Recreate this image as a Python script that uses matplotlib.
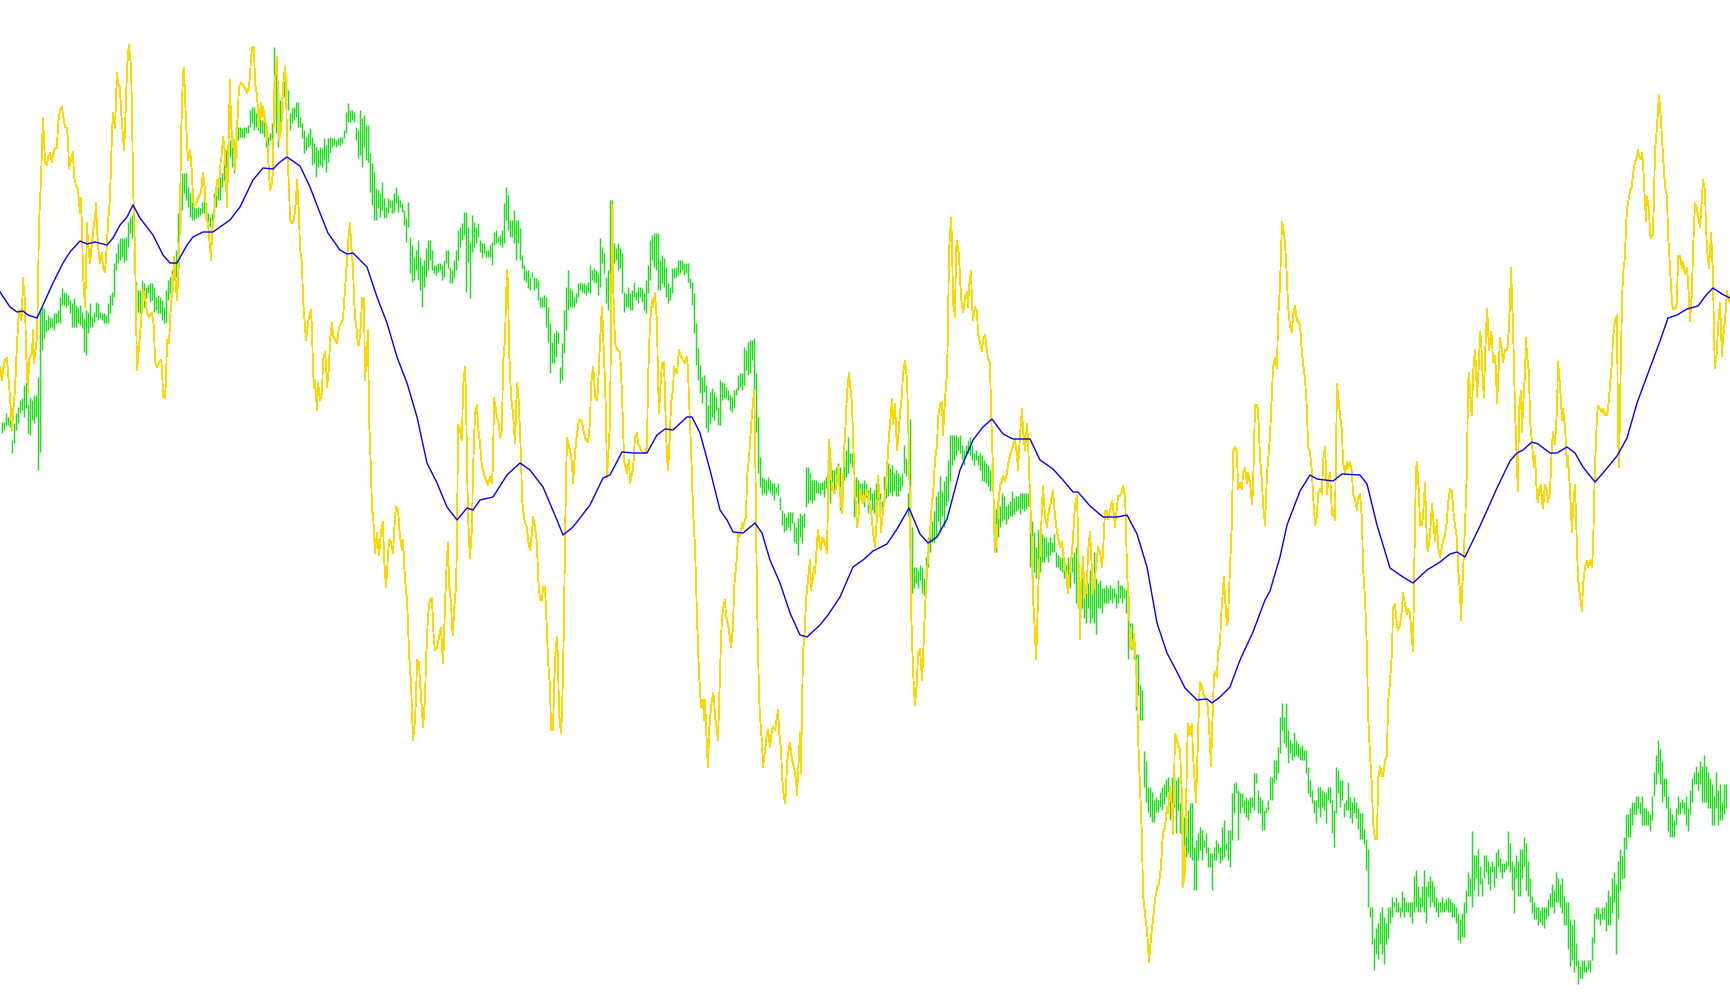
import numpy as np
import matplotlib
matplotlib.use("Agg")
import matplotlib.pyplot as plt

# canvas in chart units (price axis runs top -> bottom like the terminal window)
W, H = 1730, 1005

# price bars: top and bottom of each bar, left to right
bar_top = [
    # 0-135
    422, 422, 413, 417, 415, 440, 423, 413, 407, 400, 398, 385, 382, 405, 397, 400, 395, 395, 377, 310,
    307, 308, 320, 315, 317, 318, 313, 313, 310, 297, 288, 292, 293, 295, 300, 303, 298, 305, 307, 305,
    312, 318, 310, 312, 303, 317, 312, 302, 303, 312, 313, 313, 315, 303, 295, 292, 263, 253, 243, 238,
    238, 238, 237, 222, 217, 215, 250, 282,
    # 137-289
    290, 290, 280, 283, 287, 285, 283, 283, 287, 297, 295, 297, 300, 307, 290, 280, 277, 270, 263, 250,
    213, 193, 173, 173, 173, 187, 193, 200, 207, 208, 207, 208, 202, 200, 203, 213, 217, 213, 193, 187,
    180, 177, 173, 160, 150, 143, 140, 133, 140, 127, 127, 127, 128, 127, 127, 125, 110, 107, 107, 113,
    117, 110, 120, 110, 123, 137, 133, 123, 47, 57, 93, 100, 93, 77, 77, 90,
    # 291-589
    113, 108, 107, 102, 102, 117, 123, 130, 137, 133, 128, 137, 143, 147, 150, 147, 148, 138, 145, 138,
    137, 138, 138, 140, 138, 137, 137, 130, 112, 103, 110, 110, 112, 127, 130, 110, 118, 115, 125, 125,
    153, 163, 172, 188, 190, 193, 182, 198, 207, 198, 200, 200, 193, 187, 195, 200, 203, 210, 218, 202,
    237, 245, 257, 250, 240, 257, 265, 260, 248, 240, 240, 250, 265, 265, 263, 263, 265, 260, 250, 250,
    267, 270, 260, 250, 230, 227, 223, 212, 212, 227, 242, 215, 222, 227, 223, 240, 243, 243, 250, 250,
    245, 242, 232, 230, 237, 235, 230, 203, 187, 195, 220, 220, 210, 220, 220, 228, 255, 265, 270, 270,
    277, 272, 277, 278, 280, 297, 297, 295, 297, 307, 323, 342, 333, 330, 332, 367, 343, 310, 287, 270,
    288, 290, 297, 293, 283, 282, 283, 283, 285, 282,
    # 591-879
    265, 270, 268, 270, 273, 238, 247, 253, 277, 270, 200, 200, 243, 248, 243, 248, 253, 292, 293, 287,
    293, 290, 282, 292, 287, 287, 288, 293, 280, 265, 240, 235, 233, 233, 233, 260, 255, 258, 267, 283,
    287, 268, 268, 267, 260, 260, 260, 263, 263, 263, 278, 282, 293, 323, 348, 365, 377, 375, 385, 405,
    392, 388, 392, 397, 407, 380, 382, 383, 387, 390, 395, 397, 390, 388, 375, 373, 373, 347, 350, 342,
    340, 340, 338, 373, 417, 457, 477, 478, 480, 477, 480, 483, 483, 487, 483, 497,
    510, 513, 517, 512, 512, 512, 522, 527, 518, 513, 515, 513, 467,
    467, 473, 480, 480, 480, 482, 483, 482, 480, 477, 460, 457, 470, 470, 467, 463, 467, 480, 460, 450,
    437, 453, 453, 480, 477, 480, 483, 483, 480, 483, 490, 487, 493, 490, 483, 487,
    # 881-1169
    493, 501, 476, 483, 463, 468, 465, 473, 470, 473, 476, 473, 445, 458, 493, 419, 527, 567, 567, 570,
    565, 567, 578, 557, 537, 532, 521, 511, 496, 491, 476, 491, 481, 476, 460, 435, 435, 435, 435, 437,
    435, 445, 450, 445, 440, 437, 445, 453, 450, 455, 453, 455, 460, 463, 465, 470, 463, 506, 509, 496,
    506, 493, 496, 506, 504, 501, 491, 498, 496, 496, 493, 493, 493, 493, 493, 519, 521, 532, 547, 529,
    532, 534, 537, 537, 542, 537, 542, 534, 552, 555, 557, 557, 562, 565, 557, 567, 557, 552, 547, 557,
    588, 578, 588, 578, 583, 570, 578, 552, 578, 583, 580, 588, 588, 585, 588, 585, 588, 588, 593, 580,
    585, 585, 588, 590, 603, 623, 623, 639, 654, 654, 685, 690, 751, 761, 787, 787, 792, 800, 797, 800,
    792, 787, 784, 779, 777,
    # 1171-1349
    790, 777, 773, 780, 777, 803, 807, 817, 817, 810, 803, 803, 847, 840, 833, 827, 830, 840, 833, 847,
    853, 853, 847, 840, 843, 847, 827, 820, 843, 830, 830, 793, 783, 782, 790, 793, 793, 800, 797, 800,
    797, 797, 773, 773, 790, 797, 800, 810, 807, 800, 777, 777, 760, 760, 747, 717, 703, 717, 703, 730,
    740, 743, 732, 740, 743, 747, 745, 750, 750, 767, 780, 790, 800, 800, 787, 787, 790, 792, 793, 787,
    787, 800, 810, 767, 770, 780, 780, 803, 800, 782,
    # 1351-1457
    797, 802, 797, 802, 808, 813, 813, 829, 839, 849, 907, 907, 938, 928, 923, 912, 907, 917, 923, 907,
    907, 897, 902, 897, 902, 907, 891, 897, 902, 902, 902, 902, 876, 870, 886, 897, 886, 870, 886, 881,
    876, 881, 886, 897, 902, 902, 897, 902, 899, 897, 899, 902, 904, 907,
    # 1461-1729
    913, 919, 913, 902, 890, 872, 878, 831, 855, 855, 849, 866, 878, 855, 855, 861, 866, 861, 866, 852,
    849, 858, 863, 863, 861, 831, 843, 861, 866, 855, 861, 849, 849, 837, 843, 861, 878, 896, 902, 907,
    907, 910, 907, 907, 907, 899, 893, 884, 890, 872, 878, 884, 878, 896, 902, 902, 919, 925, 919, 943,
    960, 966, 960, 960, 966, 960, 960, 937, 913, 907, 907, 913, 907, 907, 902, 890, 896, 878, 872, 884,
    861, 849, 855, 837, 814, 814, 808, 802, 802, 796, 796, 802, 796, 808, 808, 811, 814, 796, 772, 755,
    740, 749, 761, 778, 778, 796, 808, 814, 820, 808, 796, 802, 799, 802, 796, 808, 790, 778, 772, 766,
    772, 761, 766, 755, 766, 772, 778, 784, 796, 772, 790, 784, 802, 784, 784,
]

bar_bot = [
    # 0-135
    433, 430, 425, 425, 427, 453, 443, 430, 423, 413, 410, 417, 408, 433, 435, 420, 423, 417, 470, 452,
    350, 338, 332, 330, 328, 327, 330, 323, 322, 323, 305, 305, 307, 305, 313, 327, 327, 327, 323, 325,
    328, 352, 355, 333, 327, 327, 322, 317, 320, 318, 320, 323, 323, 323, 313, 305, 297, 270, 263, 260,
    257, 262, 260, 247, 233, 238, 272, 313,
    # 137-289
    312, 313, 298, 307, 298, 293, 302, 300, 312, 310, 313, 313, 320, 323, 322, 300, 293, 287, 280, 277,
    267, 230, 210, 193, 200, 207, 217, 220, 220, 218, 217, 215, 213, 213, 220, 227, 227, 223, 213, 207,
    200, 200, 187, 180, 193, 170, 157, 167, 173, 157, 140, 137, 137, 138, 133, 133, 127, 123, 130, 127,
    130, 133, 133, 137, 147, 153, 140, 140, 120, 133, 147, 127, 113, 97, 93, 110,
    # 291-589
    130, 123, 120, 117, 127, 127, 138, 153, 150, 147, 145, 165, 163, 177, 167, 165, 167, 160, 172, 162,
    153, 147, 145, 147, 145, 145, 143, 138, 133, 122, 122, 120, 122, 140, 158, 155, 167, 147, 160, 162,
    192, 205, 220, 220, 208, 217, 210, 218, 217, 213, 208, 213, 212, 203, 212, 207, 212, 225, 242, 227,
    273, 282, 280, 270, 280, 290, 307, 287, 277, 270, 260, 270, 273, 275, 272, 270, 280, 277, 263, 268,
    283, 283, 278, 270, 260, 247, 240, 235, 292, 262, 298, 252, 247, 243, 237, 252, 258, 253, 257, 257,
    257, 265, 245, 243, 242, 245, 247, 243, 220, 230, 237, 237, 243, 260, 243, 260, 268, 280, 282, 288,
    290, 277, 290, 288, 300, 307, 307, 307, 327, 342, 373, 363, 363, 357, 343, 383, 380, 353, 330, 310,
    307, 307, 307, 303, 297, 290, 292, 293, 295, 292,
    # 591-879
    293, 280, 282, 283, 295, 287, 263, 273, 303, 310, 290, 293, 263, 260, 270, 268, 293, 312, 307, 307,
    310, 310, 297, 300, 303, 297, 302, 310, 313, 293, 280, 260, 267, 270, 290, 290, 283, 287, 297, 303,
    300, 293, 278, 277, 275, 273, 270, 275, 273, 282, 288, 305, 333, 365, 380, 393, 403, 392, 428, 432,
    423, 417, 420, 410, 425, 425, 400, 398, 398, 400, 410, 412, 408, 395, 390, 387, 390, 385, 370, 375,
    373, 360, 390, 432, 473, 487, 495, 493, 495, 490, 493, 495, 500, 493, 495, 510,
    525, 532, 530, 527, 530, 523, 542, 543, 555, 537, 543, 527, 507,
    503, 500, 503, 500, 493, 493, 495, 490, 497, 488, 483, 503, 483, 493, 487, 480, 510, 510, 480, 477,
    473, 463, 467, 517, 497, 510, 497, 503, 507, 497, 513, 500, 510, 513, 517, 500,
    # 881-1169
    511, 514, 501, 498, 496, 493, 496, 491, 496, 496, 491, 486, 473, 476, 516, 578, 593, 588, 583, 588,
    580, 593, 595, 578, 567, 552, 542, 542, 537, 521, 532, 516, 527, 506, 501, 481, 465, 460, 455, 450,
    453, 460, 465, 455, 453, 455, 460, 465, 460, 465, 470, 481, 481, 483, 486, 491, 481, 542, 552, 537,
    527, 521, 519, 524, 519, 516, 516, 514, 511, 509, 514, 509, 511, 509, 506, 567, 578, 572, 578, 567,
    572, 562, 562, 557, 562, 555, 552, 552, 567, 567, 570, 572, 578, 585, 580, 588, 572, 583, 603, 608,
    618, 608, 618, 623, 608, 623, 618, 623, 634, 608, 608, 613, 603, 603, 603, 600, 603, 598, 608, 603,
    598, 603, 598, 613, 659, 649, 649, 659, 710, 695, 720, 720, 787, 802, 812, 817, 822, 822, 812, 812,
    807, 810, 804, 797, 792,
    # 1171-1349
    820, 810, 807, 833, 810, 833, 887, 877, 857, 853, 857, 860, 890, 890, 860, 850, 860, 847, 853, 867,
    867, 890, 860, 860, 853, 863, 860, 857, 850, 860, 867, 840, 813, 793, 840, 813, 807, 813, 817, 820,
    813, 807, 810, 783, 813, 813, 830, 830, 813, 810, 800, 800, 783, 780, 773, 753, 730, 743, 747, 763,
    753, 760, 757, 755, 757, 760, 760, 760, 773, 793, 797, 803, 813, 823, 807, 817, 807, 810, 823, 800,
    803, 833, 847, 813, 793, 807, 800, 817, 810, 810,
    # 1351-1457
    818, 823, 813, 818, 829, 839, 839, 844, 870, 907, 917, 944, 970, 954, 959, 944, 954, 964, 944, 938,
    923, 917, 907, 912, 912, 917, 912, 917, 912, 912, 917, 923, 912, 907, 912, 912, 907, 912, 923, 897,
    907, 902, 907, 912, 917, 912, 912, 912, 910, 912, 912, 917, 917, 923,
    # 1461-1729
    940, 943, 937, 937, 913, 896, 896, 907, 890, 878, 896, 884, 896, 878, 872, 884, 890, 872, 887, 878,
    866, 872, 878, 872, 869, 866, 872, 890, 913, 878, 896, 896, 878, 866, 890, 896, 902, 913, 919, 919,
    925, 922, 925, 928, 919, 916, 907, 907, 913, 902, 902, 907, 913, 925, 925, 949, 966, 960, 972, 966,
    984, 978, 978, 972, 972, 969, 972, 960, 943, 919, 919, 925, 919, 919, 931, 925, 925, 913, 902, 954,
    919, 890, 878, 878, 849, 837, 837, 825, 814, 814, 808, 814, 825, 825, 825, 825, 831, 820, 796, 784,
    773, 784, 802, 796, 808, 831, 837, 837, 837, 825, 814, 814, 808, 814, 825, 831, 814, 802, 784, 784,
    790, 784, 802, 802, 802, 808, 808, 825, 825, 808, 825, 820, 820, 814, 808,
]

# oscillator (yellow), vertices
osc_x = [
    0, 2, 3, 5, 7, 8, 10, 12, 13, 15, 17, 19, 21, 22, 23, 25, 26, 28, 29, 32,
    33, 34, 37, 38, 39, 41, 42, 43, 45, 47, 48, 50, 52, 53, 55, 57, 58, 60, 62, 63,
    65, 67, 68, 69, 71, 73, 74, 76, 78, 80, 81, 82, 83, 85, 86, 87, 88, 90, 92, 93,
    95, 96, 97, 99, 100, 102, 103, 105, 107, 108, 110, 112, 113, 115, 117, 118, 120, 121, 123, 124,
    125, 127, 128, 129, 131, 132, 133, 135, 136, 137, 139, 141, 143, 145, 147, 149, 152, 154, 155, 157,
    159, 161, 162, 163, 165, 166, 167, 169, 170, 171, 173, 174, 176, 177, 179, 180, 181, 183, 184, 185,
    187, 188, 190, 192, 193, 194, 196, 198, 201, 202, 203, 205, 206, 208, 211, 212, 213, 215, 217, 219,
    220, 222, 223, 225, 227, 228, 230, 231, 233, 234, 235, 237, 239, 241, 243, 245, 247, 249, 251, 252,
    254, 255, 257, 259, 261, 262, 263, 265, 267, 268, 270, 272, 273, 274, 275, 277, 278, 279, 281, 282,
    283, 285, 286, 287, 289, 290, 292, 294, 296, 297, 299, 300,
    302, 303, 305, 306, 307, 309, 311, 312, 313, 314, 315, 317, 318, 320, 322, 323, 325, 326, 327, 329,
    330, 332, 333, 335, 337, 339, 341, 343, 344, 345, 347, 349, 350, 351, 353, 354, 355, 357, 358, 359,
    361, 362, 364, 365, 367, 368, 369, 371, 372,
    373, 375, 377, 379, 381, 383, 384, 386, 387, 389, 391, 393, 395, 396, 398, 400, 402, 403, 405, 407,
    408, 409, 411, 412, 413, 415, 416, 417, 419, 420, 422, 423, 425, 426, 427, 428, 430, 432, 433, 434,
    435, 437, 439, 440, 441, 443, 444, 445, 447, 448, 449, 451, 452, 453, 454, 456, 457, 458,
    460, 462, 463, 465, 466, 467, 468, 469, 470, 472, 473, 475, 477, 478, 480, 482, 483, 485, 487, 488,
    490, 492, 493, 494, 496, 497, 499, 500, 502, 503, 505, 506, 507, 508, 509, 511, 512, 513, 515, 517,
    518, 519, 521, 522, 523, 525, 527, 528, 530, 532, 533, 535, 537, 538, 540, 542, 543, 545, 547, 548,
    550, 551, 553, 554, 555, 557, 558, 559, 561, 562, 563, 564, 565, 566, 567, 568, 570, 572, 573, 575,
    577, 579, 581, 582, 584, 586, 588, 590, 591, 593,
    594, 595, 597, 598, 599, 601, 602, 603, 605, 606, 607, 610, 611, 612, 613, 615, 616, 618, 620, 621,
    623, 624, 627, 629, 630, 632, 633, 635, 637, 638, 640, 642, 643, 645, 647, 648, 650, 652, 653, 655,
    657, 658, 659, 661, 662, 664, 666, 667, 668, 670, 671, 673, 674, 675, 677, 679, 680, 682, 683, 685,
    687, 688, 689, 691, 692, 693, 695, 696, 697, 698, 699, 700, 701, 703, 704, 705, 707, 708, 709, 711,
    713, 714, 715, 717, 718, 719, 721, 722, 723, 725, 726, 727, 729, 730, 731, 733, 734, 735, 737, 738,
    739, 741, 742, 743, 745, 746, 747, 749, 750, 751, 753, 754, 755, 756, 757, 758, 759, 760, 762, 763,
    765, 767, 768, 770, 772, 773, 775, 777, 778, 779, 781, 782, 783, 785, 786, 787, 789, 790, 792, 794,
    796, 797, 799, 800, 801, 802, 803, 805, 806, 807, 809, 810, 811, 813, 814, 815, 817, 818, 819, 821,
    822, 823, 825, 827, 828, 829, 830, 832, 833, 835, 837, 838, 840, 842, 843, 844, 845, 847, 849, 850,
    852, 853, 854, 855, 857, 859, 860, 862, 863, 865, 867, 869, 871, 873, 875, 877, 878, 880, 881, 883,
    885, 887, 888, 890, 892, 893, 895, 897, 898, 900, 902, 903, 905, 907, 908, 910, 911, 913, 914, 915,
    917, 918, 920, 922, 923, 925, 927, 928, 930, 932, 933, 935, 937, 938, 940, 942, 943, 945, 947, 948,
    949, 951, 952, 953, 955, 956, 957, 959, 960, 961, 963, 964, 965, 967, 968, 969, 971, 972, 973, 975,
    977, 978, 980, 982, 983, 985, 987, 988, 990, 991, 993, 994, 995, 997, 998, 1000, 1002, 1003, 1005, 1007,
    1008, 1010, 1012, 1013, 1015, 1017, 1018, 1020, 1022, 1023, 1025, 1027, 1028, 1030, 1032, 1033, 1035, 1036, 1037, 1038,
    1039, 1041, 1042, 1043, 1045, 1047, 1048, 1050, 1052, 1053, 1055, 1057, 1058, 1060, 1062, 1063, 1065, 1067, 1068, 1070,
    1072, 1073, 1075, 1077, 1078, 1080, 1081, 1083, 1084, 1085, 1087, 1088, 1090, 1092, 1093, 1095, 1097, 1098, 1100, 1102,
    1103, 1105, 1107, 1108, 1110, 1112, 1113, 1115, 1117, 1118, 1120, 1122, 1123, 1125, 1126, 1127, 1129, 1130, 1131, 1133,
    1134, 1135, 1137, 1138, 1140, 1142, 1143, 1145, 1147, 1149, 1151, 1153, 1155, 1157, 1159, 1161, 1162, 1163, 1165, 1167,
    1168, 1170, 1172, 1173, 1175, 1177, 1178, 1180, 1182, 1183, 1185, 1187, 1188, 1190, 1192, 1193, 1195, 1196, 1197, 1199,
    1200, 1202, 1203, 1205, 1207, 1208, 1210, 1211, 1213, 1214, 1215, 1217, 1218, 1220, 1221, 1223, 1224, 1225, 1227, 1228,
    1230, 1232, 1233, 1235, 1237, 1238, 1240, 1242, 1243, 1245, 1247, 1248, 1250, 1252, 1253, 1255, 1257, 1258, 1260, 1262,
    1263, 1265, 1267, 1268, 1270, 1272, 1273, 1275, 1277, 1278, 1280, 1282, 1283, 1285, 1287, 1288, 1290, 1292, 1293, 1295,
    1297, 1298, 1300, 1302, 1303, 1305, 1307, 1308, 1310, 1312, 1313, 1315, 1317, 1318, 1320, 1322, 1323, 1325, 1327, 1328,
    1330, 1332, 1333, 1335, 1337, 1338, 1340, 1342, 1343, 1345, 1347, 1348, 1350, 1352, 1353, 1355, 1357, 1358, 1360, 1362,
    1363, 1365, 1367, 1368, 1370, 1372, 1373, 1375, 1377, 1378, 1380, 1382, 1383, 1385, 1387, 1388, 1390, 1392, 1393, 1395,
    1397, 1398, 1400, 1402, 1403, 1405, 1407, 1408, 1410, 1412, 1413, 1415, 1416, 1417, 1419, 1420, 1422, 1423, 1425, 1427,
    1428, 1430, 1432, 1433, 1435, 1437, 1438, 1440, 1442, 1443, 1445, 1447, 1448, 1450, 1452, 1453, 1455, 1457, 1458, 1460,
    1461, 1462, 1463, 1465, 1467, 1468, 1469, 1471, 1472, 1473, 1475, 1476, 1477, 1479, 1480, 1481, 1483, 1484, 1485, 1487,
    1488, 1489, 1491, 1492, 1493, 1495, 1496, 1497, 1499, 1500, 1502, 1503, 1505, 1507, 1508, 1510, 1511, 1513, 1514, 1515,
    1517, 1518, 1519, 1521, 1522, 1523, 1525, 1526, 1527, 1529, 1530, 1531, 1533, 1534, 1535, 1537, 1538, 1539, 1541, 1542,
    1543, 1545, 1547, 1548, 1550, 1552, 1553, 1555, 1557, 1558, 1560, 1562, 1563, 1565, 1567, 1568, 1570, 1572, 1573, 1575,
    1577, 1578, 1580, 1582, 1583, 1585, 1587, 1588, 1590, 1592, 1593, 1595, 1597, 1598, 1600, 1602, 1603, 1605, 1607, 1608,
    1610, 1612, 1613, 1615, 1617, 1618, 1619, 1621, 1622, 1623, 1625, 1626, 1627, 1629, 1630, 1632, 1633, 1635, 1637, 1638,
    1639, 1641, 1642, 1643, 1645, 1646, 1647, 1649, 1650, 1651, 1653, 1654, 1655, 1657, 1658, 1659, 1661, 1662, 1663, 1665,
    1667, 1668, 1670, 1672, 1673, 1675, 1677, 1678, 1680, 1682, 1683, 1685, 1687, 1688, 1690, 1692, 1693, 1695, 1697, 1698,
    1700, 1702, 1703, 1705, 1706, 1707, 1709, 1710, 1711, 1713, 1714, 1715, 1717, 1718, 1720, 1722, 1723, 1725, 1727, 1728, 1730,
]

osc_y = [
    367, 380, 370, 360, 358, 373, 397, 430, 413, 390, 343, 310, 320, 313, 278, 303, 350, 393, 360, 353,
    330, 363, 337, 287, 223, 180, 147, 118, 163, 165, 157, 153, 162, 155, 148, 148, 123, 110, 107, 115,
    127, 128, 140, 168, 160, 152, 177, 185, 190, 213, 198, 230, 273, 307, 275, 223, 243, 263, 243, 233,
    217, 203, 230, 257, 263, 253, 268, 272, 243, 223, 197, 133, 113, 128, 73, 83, 88, 110, 137, 150,
    130, 70, 53, 45, 67, 110, 183, 250, 313, 370, 347, 323, 290, 297, 313, 317, 313, 327, 363, 367,
    363, 360, 367, 397, 398, 380, 340, 343, 323, 303, 287, 257, 287, 300, 260, 217, 137, 73, 68, 97,
    143, 160, 150, 173, 200, 207, 203, 198, 193, 183, 173, 190, 217, 223, 260, 233, 225, 203, 180, 187,
    167, 153, 137, 153, 207, 163, 80, 123, 147, 140, 170, 130, 87, 83, 85, 88, 93, 87, 60, 47,
    47, 83, 95, 127, 103, 117, 107, 120, 130, 157, 190, 183, 170, 97, 80, 57, 97, 140, 130, 113,
    87, 67, 80, 147, 187, 220, 223, 220, 200, 180, 215, 250,
    263, 300, 327, 340, 330, 317, 310, 330, 370, 388, 380, 410, 383, 400, 393, 360, 352, 363, 387, 367,
    340, 323, 335, 340, 343, 327, 323, 320, 303, 290, 260, 230, 223, 243, 267, 297, 317, 333, 345, 345,
    323, 298, 298, 380, 350, 330, 417, 470, 512,
    513, 553, 533, 555, 532, 522, 557, 587, 572, 540, 542, 553, 517, 507, 510, 537, 550, 540, 580, 600,
    623, 653, 683, 710, 740, 720, 697, 660, 662, 683, 710, 727, 700, 660, 640, 613, 600, 598, 623, 643,
    650, 648, 637, 630, 628, 663, 640, 603, 557, 543, 583, 603, 627, 635, 610, 587, 543, 425,
    430, 440, 387, 367, 397, 463, 513, 540, 558, 527, 470, 413, 405, 427, 443, 467, 470, 477, 482, 485,
    477, 483, 463, 398, 410, 417, 425, 438, 430, 363, 340, 300, 270, 283, 347, 397, 405, 413, 443, 383,
    390, 407, 457, 497, 510, 523, 527, 540, 550, 533, 517, 527, 543, 577, 600, 600, 587, 587, 633, 660,
    687, 730, 730, 693, 657, 637, 660, 713, 733, 713, 673, 617, 543, 480, 438, 443, 450, 463, 483, 453,
    433, 420, 420, 423, 433, 440, 442, 423, 385, 367,
    377, 397, 400, 390, 363, 323, 307, 330, 383, 417, 477, 423, 323, 205, 280, 343, 347, 350, 352, 370,
    423, 460, 473, 460, 483, 473, 470, 437, 433, 443, 448, 452, 453, 453, 447, 380, 323, 300, 307, 293,
    323, 380, 413, 377, 363, 362, 430, 457, 470, 433, 403, 390, 367, 370, 373, 350, 355, 358, 360, 363,
    357, 370, 400, 447, 477, 510, 547, 583, 617, 647, 673, 690, 707, 700, 720, 700, 750, 767, 733, 707,
    693, 697, 717, 730, 740, 707, 640, 617, 610, 600, 617, 620, 630, 640, 647, 627, 590, 577, 557, 533,
    537, 533, 523, 528, 520, 517, 478, 457, 443, 427, 403, 390, 430, 520, 597, 650, 693, 717, 743, 767,
    750, 733, 730, 747, 730, 727, 730, 717, 710, 730, 750, 773, 790, 803, 790, 763, 747, 743, 760, 767,
    780, 795, 753, 733, 773, 707, 653, 627, 600, 590, 570, 560, 590, 577, 567, 573, 543, 530, 540, 550,
    538, 538, 543, 553, 500, 440, 453, 490, 490, 493, 480, 467, 493, 513, 490, 450, 437, 393, 373, 385,
    403, 437, 463, 490, 527, 513, 490, 497, 503, 497, 490, 503, 510, 532, 547, 516, 476, 506, 532, 511,
    496, 470, 450, 424, 399, 424, 404, 450, 440, 414, 394, 373, 361, 379, 414, 506, 608, 669, 690, 705,
    680, 654, 649, 680, 659, 608, 572, 557, 532, 501, 496, 460, 445, 419, 404, 402, 435, 399, 373, 328,
    251, 218, 241, 302, 317, 251, 241, 256, 277, 297, 312, 307, 297, 292, 307, 287, 271, 302, 320, 307,
    312, 333, 343, 351, 340, 335, 351, 358, 363, 409, 470, 521, 552, 537, 506, 486, 481, 476, 481, 473,
    465, 455, 450, 445, 440, 455, 470, 435, 409, 430, 450, 424, 440, 496, 547, 598, 634, 659, 634, 598,
    567, 532, 506, 486, 516, 527, 516, 506, 496, 491, 516, 532, 537, 547, 542, 552, 567, 583, 593, 567,
    552, 537, 506, 496, 532, 639, 588, 557, 583, 598, 583, 552, 532, 572, 593, 578, 557, 547, 552, 567,
    552, 511, 511, 519, 511, 501, 506, 527, 506, 496, 496, 491, 486, 496, 527, 572, 603, 644, 649, 644,
    634, 649, 685, 736, 787, 838, 894, 914, 930, 962, 937, 920, 900, 888, 883, 867, 847, 833, 827, 807,
    813, 787, 808, 834, 734, 740, 745, 750, 797, 886, 870, 755, 724, 734, 724, 755, 787, 802, 771, 703,
    682, 687, 693, 698, 703, 708, 745, 766, 703, 677, 672, 677, 651, 645, 619, 588, 577, 598, 625, 619,
    567, 520, 452, 447, 452, 489, 483, 489, 473, 468, 483, 473, 483, 504, 489, 405, 405, 410, 457, 483,
    504, 525, 473, 462, 436, 389, 368, 358, 368, 321, 285, 222, 227, 243, 279, 306, 326, 332, 316, 306,
    321, 321, 326, 353, 363, 379, 410, 447, 452, 473, 494, 525, 515, 494, 489, 494, 462, 447, 494, 483,
    473, 515, 510, 520, 384, 394, 415, 431, 462, 473, 462, 468, 462, 473, 494, 499, 510, 499, 494, 520,
    567, 598, 651, 713, 755, 787, 823, 839, 839, 781, 766, 776, 776, 761, 755, 703, 682, 651, 609, 604,
    625, 630, 625, 609, 593, 604, 614, 609, 614, 640, 651, 520, 468, 462, 494, 525, 525, 515, 483, 546,
    551, 535, 504, 515, 541, 520, 546, 557, 546, 541, 535, 520, 504, 489, 491, 508, 526, 538, 567, 591,
    620, 591, 573, 526, 467, 385, 373, 409, 415, 373, 350, 368, 397, 362, 332, 338, 385, 397, 356, 309,
    326, 350, 332, 338, 362, 356, 373, 403, 362, 338, 350, 362, 350, 350, 344, 303, 268, 326, 368, 409,
    467, 491, 409, 391, 432, 409, 373, 338, 356, 373, 420, 432, 456, 467, 456, 497, 502, 491, 485, 502,
    508, 485, 491, 502, 491, 444, 432, 444, 409, 362, 385, 420, 409, 426, 467, 456, 491, 532, 508, 485,
    549, 579, 596, 611, 585, 567, 561, 567, 561, 567, 549, 467, 415, 406, 409, 412, 409, 415, 415, 409,
    385, 362, 338, 321, 315, 432, 467, 350, 303, 274, 256, 227, 209, 197, 191, 186, 174, 162, 156, 150,
    156, 159, 153, 162, 203, 221, 197, 209, 233, 238, 233, 197, 150, 127, 109, 95, 121, 139, 156, 186,
    197, 233, 268, 303, 309, 309, 303, 256, 256, 268, 262, 274, 268, 280, 321, 291, 250, 203, 209, 215,
    227, 197, 180, 191, 227, 250, 268, 250, 233, 274, 338, 368, 350, 326, 303, 356, 338, 321, 291, 297, 303,
]

# moving average (blue)
ma_x = [
    0, 10, 17, 23, 28, 37, 43, 53, 63, 70, 80, 87, 95, 107, 113, 120, 127, 133, 140, 153,
    163, 170, 177, 187, 193, 203, 213, 220, 230, 240, 253, 263, 273, 280, 287, 300, 310, 320, 328, 340,
    347, 353, 360, 367, 377, 387, 397, 407, 417, 427, 437, 447, 457, 467, 473, 480, 493, 507, 520, 530,
    543, 557, 563, 573, 590, 603, 610, 622, 633, 647, 657, 665, 673, 687, 692, 700, 710, 720, 727, 733,
    743, 755, 762, 770, 780, 790, 800, 807, 820, 828, 840, 853, 863, 873, 887, 897, 909, 920, 928, 937,
    947, 960, 973, 983, 992, 1003, 1013, 1030, 1040, 1053, 1063, 1073, 1078, 1090, 1103, 1117, 1127, 1137, 1147, 1157,
    1167, 1177, 1185, 1197, 1207, 1212, 1220, 1230, 1240, 1253, 1265, 1270, 1280, 1287, 1300, 1310, 1317, 1333, 1342, 1360,
    1367, 1377, 1390, 1403, 1413, 1427, 1440, 1450, 1457, 1465, 1480, 1497, 1510, 1517, 1523, 1532, 1538, 1550, 1557, 1567,
    1575, 1583, 1595, 1603, 1617, 1627, 1637, 1650, 1660, 1668, 1677, 1687, 1698, 1707, 1713, 1722, 1730,
]
ma_y = [
    292, 307, 312, 311, 315, 318, 305, 283, 263, 252, 241, 244, 242, 245, 238, 225, 217, 205, 218, 235,
    255, 263, 263, 245, 237, 232, 232, 227, 220, 207, 180, 168, 169, 162, 157, 166, 187, 213, 233, 250,
    254, 253, 260, 267, 297, 323, 357, 383, 417, 463, 483, 507, 520, 508, 510, 500, 497, 475, 463, 470,
    487, 520, 535, 527, 505, 478, 475, 452, 453, 453, 435, 429, 430, 417, 417, 433, 470, 510, 520, 532,
    533, 523, 533, 560, 583, 613, 635, 637, 625, 615, 597, 567, 560, 551, 544, 529, 508, 534, 543, 537,
    519, 470, 440, 427, 419, 434, 439, 439, 460, 469, 480, 492, 492, 506, 517, 517, 515, 534, 567, 623,
    653, 672, 688, 700, 699, 703, 697, 687, 660, 632, 600, 591, 557, 525, 491, 475, 479, 481, 474, 475,
    484, 525, 568, 577, 583, 570, 562, 554, 552, 557, 526, 488, 461, 453, 450, 442, 444, 453, 453, 447,
    453, 467, 482, 473, 456, 438, 403, 368, 341, 318, 315, 309, 306, 294, 288, 294, 298,
]

fig = plt.figure(figsize=(W / 100, H / 100), dpi=100)
ax = fig.add_axes([0, 0, 1, 1])
ax.set_xlim(0, W)
ax.set_ylim(H, 0)
ax.axis("off")

# one bar every 2 px, like the terminal's compressed bar chart
n = min(len(bar_top), len(bar_bot))
bar_x = 1.5 + 2 * np.arange(n)
ax.vlines(bar_x, bar_top[:n], bar_bot[:n], colors="#1fdc1f", linewidth=1.05)

m = min(len(osc_x), len(osc_y))
ax.plot(osc_x[:m], osc_y[:m], color="#ffd700", linewidth=0.6, antialiased=False)

k = min(len(ma_x), len(ma_y))
ax.plot(ma_x[:k], ma_y[:k], color="#0000ff", linewidth=1.0)

fig.savefig("out.png", dpi=100, facecolor="white")
